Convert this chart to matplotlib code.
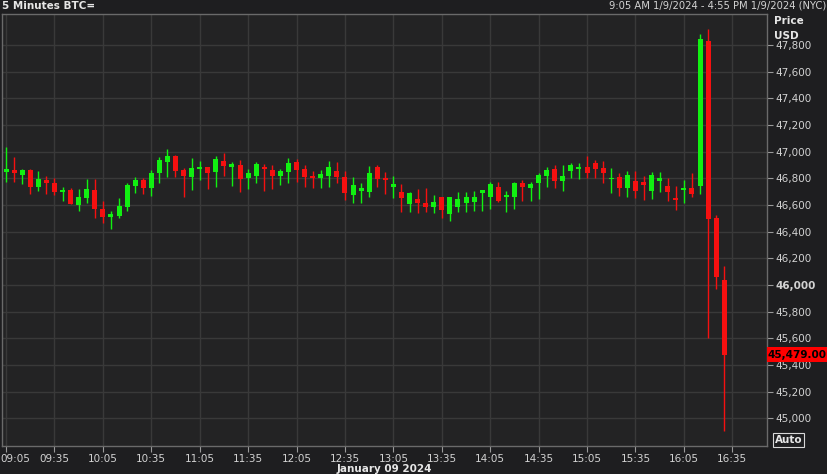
import numpy as np
import matplotlib
matplotlib.use("Agg")
import matplotlib.pyplot as plt
from matplotlib.patches import Rectangle
from matplotlib.ticker import FixedLocator, FuncFormatter
from matplotlib.transforms import ScaledTranslation

# 5 minute candles, 09:05 .. 16:30
opens = [
    46850, 46863, 46828, 46863, 46738, 46788, 46768, 46700, 46713, 46600,
    46655, 46713, 46568, 46513, 46518, 46585, 46745, 46788, 46730, 46838,
    46925, 46970, 46863, 46813, 46873, 46883, 46850, 46930, 46888, 46900,
    46805, 46820, 46885, 46863, 46820, 46850, 46920, 46870, 46818, 46805,
    46818, 46855, 46810, 46675, 46705, 46700, 46888, 46800, 46738, 46700,
    46608, 46643, 46613, 46588, 46658, 46533, 46588, 46618, 46623, 46688,
    46663, 46738, 46663, 46663, 46768, 46730, 46768, 46820, 46870, 46783,
    46855, 46870, 46885, 46913, 46880, 46795, 46810, 46730, 46780, 46775,
    46705, 46783, 46745, 46655, 46713, 46730, 46745, 47830, 46503, 46040,
]
highs = [
    47038, 46963, 46868, 46870, 46855, 46818, 46800, 46738, 46730, 46718,
    46793, 46793, 46630, 46555, 46655, 46768, 46813, 46805, 46863, 46958,
    47020, 46975, 46875, 46950, 46930, 46888, 46968, 46993, 46923, 46938,
    46868, 46920, 46908, 46900, 46870, 46950, 46943, 46900, 46855, 46863,
    46930, 46925, 46855, 46808, 46763, 46895, 46900, 46850, 46818, 46758,
    46700, 46718, 46725, 46675, 46663, 46663, 46700, 46695, 46705, 46713,
    46775, 46775, 46705, 46775, 46788, 46775, 46843, 46888, 46900, 46900,
    46913, 46918, 46970, 46938, 46930, 46880, 46838, 46855, 46855, 46820,
    46845, 46845, 46805, 46745, 46788, 46843, 47883, 47920, 46525, 46145,
]
lows = [
    46775, 46775, 46758, 46680, 46708, 46680, 46675, 46633, 46605, 46558,
    46613, 46500, 46468, 46420, 46500, 46555, 46688, 46680, 46670, 46768,
    46813, 46813, 46663, 46713, 46788, 46720, 46738, 46820, 46745, 46695,
    46718, 46768, 46705, 46718, 46750, 46768, 46775, 46738, 46730, 46725,
    46733, 46768, 46638, 46618, 46618, 46663, 46733, 46680, 46650, 46550,
    46550, 46543, 46550, 46543, 46505, 46483, 46550, 46550, 46555, 46558,
    46570, 46625, 46550, 46570, 46630, 46630, 46645, 46738, 46730, 46705,
    46805, 46795, 46805, 46805, 46768, 46693, 46670, 46663, 46655, 46638,
    46645, 46695, 46630, 46563, 46613, 46663, 46683, 45600, 45970, 44905,
]
closes = [
    46870, 46843, 46863, 46738, 46795, 46763, 46700, 46713, 46610, 46658,
    46718, 46568, 46513, 46533, 46593, 46750, 46788, 46730, 46838, 46938,
    46970, 46855, 46820, 46880, 46888, 46843, 46945, 46895, 46910, 46795,
    46838, 46908, 46873, 46820, 46855, 46918, 46863, 46813, 46805, 46833,
    46888, 46808, 46693, 46750, 46730, 46843, 46795, 46788, 46760, 46655,
    46693, 46613, 46588, 46625, 46563, 46658, 46645, 46663, 46663, 46713,
    46758, 46630, 46668, 46768, 46738, 46758, 46825, 46863, 46783, 46818,
    46900, 46885, 46843, 46870, 46838, 46800, 46730, 46825, 46705, 46750,
    46825, 46800, 46700, 46638, 46730, 46683, 47845, 46495, 46063, 45479,
]
time_labels = [
    "09:05", "09:35", "10:05", "10:35", "11:05", "11:35", "12:05", "12:35",
    "13:05", "13:35", "14:05", "14:35", "15:05", "15:35", "16:05", "16:35",
]
price_ticks = list(range(45000, 48000, 200))
last_price = 45479.00

BG = "#1e1e20"
PANEL = "#232324"
GRID = "#393939"
TXT = "#d2d2d2"
UP = "#11f011"
DOWN = "#f51010"

plt.rcParams["font.family"] = ["DejaVu Sans"]

fig = plt.figure(figsize=(8.28, 4.74), dpi=100, facecolor=BG)
ax = fig.add_axes([2 / 828, 28 / 474, 765 / 828, 432 / 474], facecolor=PANEL)

o = np.array(opens)
h = np.array(highs)
l = np.array(lows)
c = np.array(closes)
x = np.arange(len(o))
up = c >= o
cols = np.where(up, UP, DOWN)

ax.vlines(x, l, h, colors=cols, linewidth=1.0, zorder=3)
body_lo = np.minimum(o, c)
body_h = np.maximum(np.abs(c - o), 10)
ax.bar(x, body_h, bottom=body_lo, width=0.62, color=cols, linewidth=0, zorder=4)

ax.set_xlim(-0.5, 94.3)
ax.set_ylim(44793, 48033)

xt = np.arange(0, len(o) + 1, 6)
ax.set_xticks(xt)
ax.set_xticklabels(time_labels)
ax.yaxis.tick_right()
ax.yaxis.set_major_locator(FixedLocator(price_ticks))
ax.yaxis.set_major_formatter(FuncFormatter(lambda v, p: f"{v:,.0f}"))
for lbl in ax.get_yticklabels():
    if lbl.get_text() == "46,000":
        lbl.set_fontweight("bold")

ax.tick_params(axis="both", colors="#9a9a9a", labelcolor=TXT, labelsize=7.5,
               length=4, width=0.8, pad=2)
ax.grid(True, color=GRID, linewidth=1.0)
ax.set_axisbelow(True)
for s in ax.spines.values():
    s.set_color("#6a6a6a")
    s.set_linewidth(1.0)

# first time label sits right of its tick so it stays inside the figure
first = ax.get_xticklabels()[0]
first.set_transform(first.get_transform() + ScaledTranslation(0.09, 0, fig.dpi_scale_trans))

# header texts
fig.text(2 / 828, 1 - 6 / 474, "5 Minutes BTC=", color="#e6e6e6", fontsize=7.5,
         fontweight="bold", ha="left", va="center")
fig.text(826 / 828, 1 - 6 / 474, "9:05 AM 1/9/2024 - 4:55 PM 1/9/2024 (NYC)",
         color=TXT, fontsize=7.2, ha="right", va="center")
fig.text(774 / 828, 1 - 21 / 474, "Price", color="#e6e6e6", fontsize=7.5,
         fontweight="bold", ha="left", va="center")
fig.text(774 / 828, 1 - 36 / 474, "USD", color="#e6e6e6", fontsize=7.5,
         fontweight="bold", ha="left", va="center")
fig.text(384 / 828, 1 - 469 / 474, "January 09 2024", color="#e6e6e6",
         fontsize=7.5, fontweight="bold", ha="center", va="center")

# last price flag
tr = ax.get_yaxis_transform()
ax.add_patch(Rectangle((1.0, last_price - 56), 61 / 765, 112, transform=tr,
                       facecolor="#ff0000", edgecolor="none", clip_on=False,
                       zorder=6))
ax.text(1.0 + 30 / 765, last_price, f"{last_price:,.2f}", transform=tr,
        color="black", fontsize=7.5, fontweight="bold", ha="center",
        va="center", zorder=7, clip_on=False)

fig.text(775 / 828, 1 - 440 / 474, "Auto", color="#e6e6e6", fontsize=7.5,
         fontweight="bold", ha="left", va="center",
         bbox=dict(boxstyle="square,pad=0.15", facecolor="none",
                   edgecolor="#d8d8d8", linewidth=0.8))

fig.savefig("out.png", dpi=100, facecolor=BG)
